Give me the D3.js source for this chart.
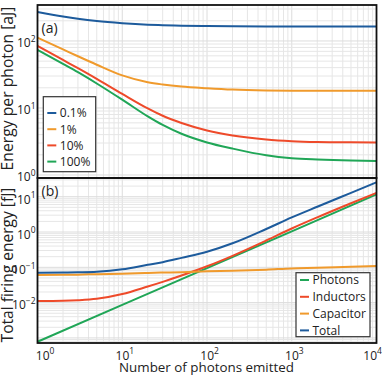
<!DOCTYPE html>
<html>
<head>
<meta charset="utf-8">
<script src="https://cdn.jsdelivr.net/npm/d3@7"></script>
<style>
    body { margin: 0; background: #fff; }
    svg { display: block; }
    text { font-family: 'Open Sans', sans-serif; fill: #222; }
</style>
</head>
<body>
<svg id="chart" width="382" height="376"></svg>
<script>
// number of photons emitted (x values)
const nEmitted = [1, 2, 3, 5, 10, 20, 30, 50, 100, 200, 500, 1000, 2000, 5000, 10000];

// (a) energy per photon [aJ] for each efficiency
const perPhoton01 = [271, 232, 214.5, 198, 184, 175, 172, 169.2, 166.9, 165.2, 164, 164, 164, 164, 164];
const perPhoton1 = [112, 74.9, 59.1, 44.2, 30.6, 24.2, 22.4, 20.9, 19.7, 18.8, 18.25, 18.1, 18.1, 18.1, 18.1];
const perPhoton10 = [84.2, 52.0, 39.3, 27.2, 16.2, 9.83, 7.65, 5.97, 4.62, 3.89, 3.39, 3.20, 3.11, 3.07, 3.06];
const perPhoton100 = [73.4, 45.4, 34.2, 23.2, 13.3, 7.49, 5.58, 4.12, 3.06, 2.48, 1.97, 1.78, 1.70, 1.64, 1.62];

// (b) total firing energy [fJ]
const decadeN = [1, 10, 100, 1000, 10000];
const photonEnergy = [7.8e-4, 8.6e-3, 0.095, 1.04, 11.6];
const inductorEnergy = [0.0111, 0.0113, 0.0117, 0.0128, 0.0175, 0.0286, 0.0388, 0.0586, 0.107, 0.212, 0.574, 1.26, 2.61, 6.55, 12.9];
const capacitorEnergy = [0.0605, 0.0615, 0.062, 0.064, 0.066, 0.069, 0.071, 0.073, 0.077, 0.080, 0.086, 0.093, 0.097, 0.104, 0.109];
const totalEnergy = [0.0699, 0.0708, 0.0722, 0.075, 0.0878, 0.118, 0.140, 0.185, 0.275, 0.479, 1.22, 2.59, 5.21, 12.9, 25.6];

const efficiencyLabels = ['0.1%', '1%', '10%', '100%'];
const componentLabels = ['Photons', 'Inductors', 'Capacitor', 'Total'];

const xTicks = [1, 10, 100, 1000, 10000];
const topTicks = [1, 10, 100];
const bottomTicks = [0.01, 0.1, 1, 10];

const colors = { blue: '#1d5b9c', orange: '#f09a2c', red: '#ee4a2a', green: '#20a657' };

const svg = d3.select('#chart');
const plotLeft = 37.5, plotRight = 376.5, plotTop = 5, plotMid = 178, plotBottom = 343;

const xScale = d3.scaleLog().domain([1, 1e4]).range([plotLeft, plotRight]);
const yTop = d3.scaleLog().domain([0.902, 344]).range([plotMid, plotTop]);
const yBot = d3.scaleLog().domain([7.18e-4, 33.9]).range([plotBottom, plotMid]);

function gridValues(domain) {
    const vals = [];
    const lo = Math.floor(Math.log10(domain[0]));
    const hi = Math.ceil(Math.log10(domain[1]));
    for (let k = lo; k <= hi; k++) {
        for (let m = 1; m < 10; m++) {
            const v = m * Math.pow(10, k);
            if (v >= domain[0] && v <= domain[1]) vals.push({ v: v, major: m === 1 });
        }
    }
    return vals;
}

function drawPanel(yScale, y0, y1, id) {
    const g = svg.append('g');
    g.append('clipPath').attr('id', id)
        .append('rect').attr('x', plotLeft).attr('y', y0).attr('width', plotRight - plotLeft).attr('height', y1 - y0);

    g.selectAll('.vgrid')
        .data(gridValues(xScale.domain()))
        .enter().append('line')
        .attr('x1', d => xScale(d.v)).attr('x2', d => xScale(d.v))
        .attr('y1', y0).attr('y2', y1)
        .attr('stroke', d => d.major ? '#dcdcdc' : '#e6e6e6')
        .attr('stroke-width', 1);

    g.selectAll('.hgrid')
        .data(gridValues(yScale.domain()))
        .enter().append('line')
        .attr('x1', plotLeft).attr('x2', plotRight)
        .attr('y1', d => yScale(d.v)).attr('y2', d => yScale(d.v))
        .attr('stroke', d => d.major ? '#dcdcdc' : '#e6e6e6')
        .attr('stroke-width', 1);

    return g.append('g').attr('clip-path', `url(#${id})`);
}

const topPlot = drawPanel(yTop, plotTop, plotMid, 'clip-a');
const botPlot = drawPanel(yBot, plotMid, plotBottom, 'clip-b');

const lineTop = d3.line()
    .x((d, i) => xScale(nEmitted[i]))
    .y(d => yTop(d))
    .curve(d3.curveMonotoneX);

const lineBot = d3.line()
    .x((d, i) => xScale(nEmitted[i]))
    .y(d => yBot(d))
    .curve(d3.curveMonotoneX);

const topSeries = [
    { values: perPhoton01, color: colors.blue },
    { values: perPhoton1, color: colors.orange },
    { values: perPhoton10, color: colors.red },
    { values: perPhoton100, color: colors.green }
];

topPlot.selectAll('.line')
    .data(topSeries)
    .enter().append('path')
    .attr('d', d => lineTop(d.values))
    .attr('fill', 'none')
    .attr('stroke', d => d.color)
    .attr('stroke-width', 2);

// photons is a straight line in log-log, given at decades
botPlot.append('path')
    .attr('d', d3.line().x((d, i) => xScale(decadeN[i])).y(d => yBot(d))(photonEnergy))
    .attr('fill', 'none')
    .attr('stroke', colors.green)
    .attr('stroke-width', 2);

const botSeries = [
    { values: inductorEnergy, color: colors.red },
    { values: capacitorEnergy, color: colors.orange },
    { values: totalEnergy, color: colors.blue }
];

botPlot.selectAll('.line')
    .data(botSeries)
    .enter().append('path')
    .attr('d', d => lineBot(d.values))
    .attr('fill', 'none')
    .attr('stroke', d => d.color)
    .attr('stroke-width', 2);

// frames
[[plotTop, plotMid], [plotMid, plotBottom]].forEach(p => {
    svg.append('rect')
        .attr('x', plotLeft).attr('y', p[0])
        .attr('width', plotRight - plotLeft).attr('height', p[1] - p[0])
        .attr('fill', 'none').attr('stroke', '#111').attr('stroke-width', 1.8);
});

// power-of-ten label
function powLabel(sel, v) {
    const e = Math.round(Math.log10(v));
    sel.append('tspan').text('10');
    sel.append('tspan')
        .attr('font-size', 8.5)
        .attr('dy', -5.5)
        .text(e < 0 ? '\u2212' + (-e) : String(e));
}

function yLabels(scale, ticks, offset) {
    ticks.forEach(v => {
        svg.append('text')
            .attr('x', 35.5)
            .attr('y', scale(v) + offset)
            .attr('text-anchor', 'end')
            .attr('font-size', 12)
            .call(powLabel, v);
    });
}
yLabels(yTop, topTicks, 6.3);
yLabels(yBot, bottomTicks, 6.8);

// x tick labels: "10" centred on the tick, ends nudged inward as in the source
const xShift = { 1: 5, 10000: -6.5 };
xTicks.forEach(v => {
    svg.append('text')
        .attr('x', xScale(v) - 6.7 + (xShift[v] || 0))
        .attr('y', 359.5)
        .attr('font-size', 12)
        .call(powLabel, v);
});

function fitWidth(sel, target) {
    const len = sel.node().getComputedTextLength();
    const fs = parseFloat(sel.attr('font-size'));
    sel.attr('font-size', fs * target / len);
}

// axis titles
svg.append('text')
    .attr('transform', 'translate(13.4, 88.5) rotate(-90)')
    .attr('text-anchor', 'middle')
    .attr('font-size', 13)
    .text('Energy per photon [aJ]')
    .call(fitWidth, 164);

svg.append('text')
    .attr('transform', 'translate(13.4, 265) rotate(-90)')
    .attr('text-anchor', 'middle')
    .attr('font-size', 13)
    .text('Total firing energy [fJ]')
    .call(fitWidth, 155);

svg.append('text')
    .attr('x', 206.5)
    .attr('y', 372.3)
    .attr('text-anchor', 'middle')
    .attr('font-size', 13)
    .text('Number of photons emitted')
    .call(fitWidth, 175);

// panel tags
svg.append('text').attr('x', 41.5).attr('y', 33).attr('font-size', 14).text('(a)');
svg.append('text').attr('x', 41.5).attr('y', 195.5).attr('font-size', 14).text('(b)');

// legends
function legend(x, y, w, h, rowY0, rowStep, labels, cols) {
    const g = svg.append('g');
    g.append('rect')
        .attr('x', x).attr('y', y).attr('width', w).attr('height', h)
        .attr('fill', '#fff').attr('stroke', '#333').attr('stroke-width', 1.2);
    labels.forEach((lab, i) => {
        const cy = rowY0 + i * rowStep;
        g.append('line')
            .attr('x1', x + 4).attr('x2', x + 13)
            .attr('y1', cy).attr('y2', cy)
            .attr('stroke', cols[i]).attr('stroke-width', 2);
        g.append('text')
            .attr('x', x + 16.5).attr('y', cy + 4.3)
            .attr('font-size', 12)
            .text(lab);
    });
}

legend(43.3, 96.7, 52.4, 75, 113, 16.2, efficiencyLabels,
    [colors.blue, colors.orange, colors.red, colors.green]);
legend(296, 272.7, 74, 64, 280, 16.8, componentLabels,
    [colors.green, colors.red, colors.orange, colors.blue]);
</script>
</body>
</html>
